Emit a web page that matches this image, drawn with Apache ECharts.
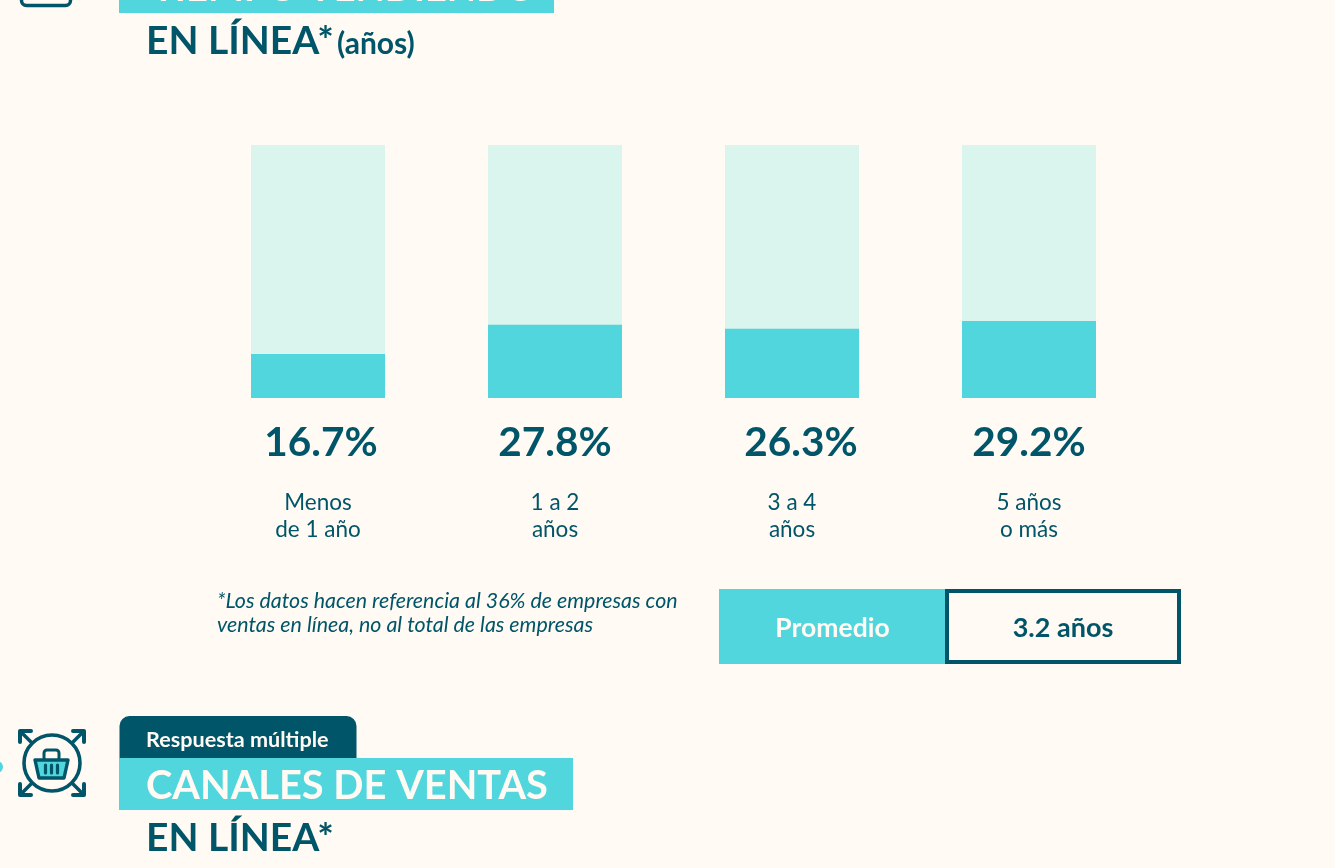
<!DOCTYPE html>
<html><head><meta charset="utf-8">
<style>html,body{margin:0;padding:0;background:#FFFAF3;overflow:hidden}#c{width:1335px;height:868px}</style>
<script src="https://cdn.jsdelivr.net/npm/echarts@6/dist/echarts.min.js"></script>
</head><body><div id="c"></div>
<script>
const categories = ['Menos\nde 1 año', '1 a 2\naños', '3 a 4\naños', '5 años\no más'];
const shares = [16.7, 27.8, 26.3, 29.2];
const averageLabel = 'Promedio';
const averageValue = '3.2 años';
const noteLines = ['*Los datos hacen referencia al 36% de empresas con', 'ventas en línea, no al total de las empresas'];

const BG = '#FFFAF3', TEAL = '#50D6DC', PALE = '#DAF4EE', DARK = '#005569';
const FONT = 'Lato';
const valueNudge = [3, 0, 9, 0];

const txt = (x, y, text, size, weight, fill, extra) => ({
  type: 'text', x, y, silent: true,
  style: Object.assign({ text, fontFamily: FONT, fontSize: size, fontWeight: weight, fill, verticalAlign: 'middle' }, extra || {})
});
const rect = (x, y, width, height, fill, r) => ({ type: 'rect', silent: true, shape: { x, y, width, height, r: r || 0 }, style: { fill } });
const stroke = (lw) => ({ fill: 'none', stroke: DARK, lineWidth: lw, lineCap: 'round', lineJoin: 'round' });
const head = (x, y, sx, sy) => ({ type: 'polyline', silent: true, shape: { points: [[x + sx * 11, y], [x, y], [x, y + sy * 11]] }, style: stroke(4) });
const line = (x1, y1, x2, y2, lw) => ({ type: 'line', silent: true, shape: { x1, y1, x2, y2 }, style: stroke(lw || 3.5) });

const graphics = [
  // cropped top heading
  rect(119, 0, 435, 13, TEAL),
  { type: 'rect', silent: true, shape: { x: 21.5, y: -20, width: 49, height: 25.5, r: 5 }, style: stroke(3.5) },
  txt(152, -11, 'TIEMPO VENDIENDO', 38, 700, BG),
  txt(146, 41, 'EN LÍNEA*', 39, 700, DARK),
  txt(337, 44, '(años)', 30, 700, DARK),
  // note + average box
  txt(217, 601, noteLines[0], 21.4, 400, DARK, { fontStyle: 'italic' }),
  txt(217, 625, noteLines[1], 21.4, 400, DARK, { fontStyle: 'italic' }),
  rect(719, 589, 226, 75, TEAL),
  { type: 'rect', silent: true, shape: { x: 947, y: 591, width: 232, height: 71 }, style: { fill: 'none', stroke: DARK, lineWidth: 4 } },
  txt(832.5, 628, averageLabel, 26.5, 700, BG, { align: 'center' }),
  txt(1063, 628, averageValue, 27, 700, DARK, { align: 'center' }),
  // bottom heading
  { type: 'rect', silent: true, shape: { x: 119.5, y: 716, width: 237, height: 44, r: [10, 10, 0, 0] }, style: { fill: DARK } },
  rect(119, 758, 454, 52, TEAL),
  txt(146, 740, 'Respuesta múltiple', 21.6, 700, BG),
  txt(146, 786, 'CANALES DE VENTAS', 39.8, 700, BG),
  txt(146, 838, 'EN LÍNEA*', 39, 700, DARK),
  // icon
  { type: 'circle', silent: true, shape: { cx: -3, cy: 767, r: 6 }, style: { fill: TEAL } },
  { type: 'circle', silent: true, shape: { cx: 52, cy: 763, r: 28 }, style: stroke(3.6) },
  head(20, 731, 1, 1), head(84, 731, -1, 1), head(20, 795, 1, -1), head(84, 795, -1, -1),
  line(21, 732, 32, 743), line(83, 732, 72, 743), line(21, 794, 32, 783), line(83, 794, 72, 783),
  { type: 'rect', silent: true, shape: { x: 44, y: 750, width: 15, height: 11, r: 3 }, style: stroke(3) },
  { type: 'polygon', silent: true, shape: { points: [[35, 760], [68, 760], [64, 778], [39, 778]] }, style: { fill: TEAL, stroke: DARK, lineWidth: 3.4, lineJoin: 'round' } },
  line(45.5, 765, 45.5, 773, 3.2), line(51.5, 765, 51.5, 773, 3.2), line(57.5, 765, 57.5, 773, 3.2),
];

const chart = echarts.init(document.getElementById('c'), null, { renderer: 'canvas' });
chart.setOption({
  backgroundColor: BG,
  animation: false,
  grid: { left: 199.5, width: 948, top: 145, height: 253, containLabel: false },
  xAxis: {
    type: 'category', data: categories,
    axisLine: { show: false }, axisTick: { show: false },
    axisLabel: { interval: 0, margin: 91, color: DARK, fontFamily: FONT, fontSize: 22.5, lineHeight: 27 }
  },
  yAxis: { type: 'value', min: 0, max: 96, show: false, splitLine: { show: false } },
  series: [{
    type: 'bar', barWidth: 134,
    showBackground: true,
    backgroundStyle: { color: PALE },
    itemStyle: { color: TEAL },
    data: shares.map((v, i) => ({ value: v, label: { offset: [valueNudge[i], 0] } })),
    label: {
      show: true, position: 'bottom', distance: 24,
      formatter: p => p.value.toFixed(1) + '%',
      color: DARK, fontFamily: FONT, fontSize: 40.5, fontWeight: 700
    }
  }],
  graphic: graphics
});
</script></body></html>
